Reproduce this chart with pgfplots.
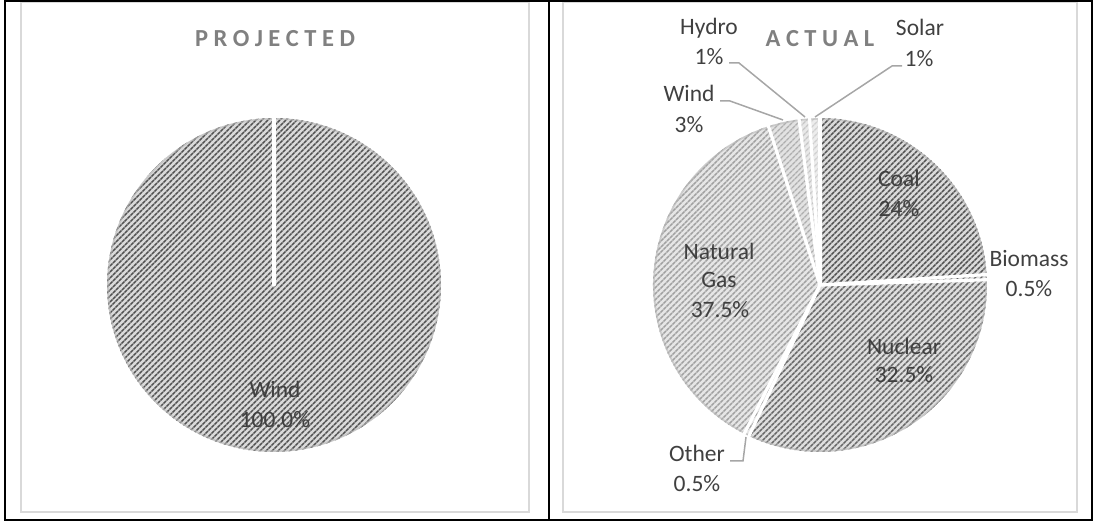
\documentclass[border=0pt]{standalone}
\usepackage{pgfplots}
\pgfplotsset{compat=1.18}
\usetikzlibrary{patterns.meta}
\usepackage{fontspec}
\setmainfont{Carlito}
\definecolor{lbl}{HTML}{404040}
\definecolor{ttl}{HTML}{808080}
\definecolor{leader}{HTML}{A6A6A6}
\definecolor{frame}{HTML}{D9D9D9}
\definecolor{bgA}{HTML}{DADADA}\definecolor{lnA}{HTML}{505050}
\definecolor{bgB}{HTML}{DEDEDE}\definecolor{lnB}{HTML}{666666}
\definecolor{bgC}{HTML}{E6E6E6}\definecolor{lnC}{HTML}{A0A0A0}
\definecolor{bgD}{HTML}{E2E2E2}\definecolor{lnD}{HTML}{AEAEAE}
\definecolor{bgE}{HTML}{E8E8E8}\definecolor{lnE}{HTML}{C6C6C6}
\definecolor{bgF}{HTML}{ECECEC}\definecolor{lnF}{HTML}{D0D0D0}
\newcommand\pieR{167}
% #1 start (percent), #2 share (percent), #3 background, #4 hatch colour
\newcommand\slicefill[4]{%
  \pgfmathsetmacro\sa{90-3.6*(#1)}%
  \pgfmathsetmacro\ea{90-3.6*((#1)+(#2))}%
  \pgfmathsetmacro\sx{\pieR*cos(\sa)}%
  \pgfmathsetmacro\sy{\pieR*sin(\sa)}%
  \edef\tmp{\noexpand\path[fill=#3, postaction={pattern={Lines[angle=45,distance=3.9bp,line width=1.6bp]}, pattern color=#4}] (0,0) -- (\sx,\sy) arc[start angle=\sa, end angle=\ea, radius=\pieR bp] -- cycle;}%
  \tmp}
% white separator at cumulative percent #1
\newcommand\sliceedge[1]{%
  \pgfmathsetmacro\sa{90-3.6*(#1)}%
  \pgfmathsetmacro\sx{(\pieR+2)*cos(\sa)}%
  \pgfmathsetmacro\sy{(\pieR+2)*sin(\sa)}%
  \edef\tmp{\noexpand\draw[white, line width=3.2bp, line cap=round] (0,0) -- (\sx,\sy);}%
  \tmp}
\newcommand\rim{\draw[gray!55, line width=1.6bp, opacity=0.6] (0,0) circle[radius=166bp];}
\tikzset{lab/.style={text=lbl, font=\fontsize{23.5bp}{28bp}\selectfont, anchor=base, inner sep=0pt},
  ttlst/.style={text=ttl, font=\fontsize{24.5bp}{28bp}\selectfont\bfseries, anchor=base, inner sep=0pt},
  lead/.style={draw=leader, line width=1.5bp}}
\begin{document}
\begin{tikzpicture}[x=1bp,y=1bp]
\useasboundingbox (0,0) rectangle (1094,521);
% chart area frames
\draw[frame, line width=1.5bp] (21,9) rectangle (529,518.5);
\draw[frame, line width=1.5bp] (563,9) rectangle (1077,518.5);
% ---------- PROJECTED ----------
\begin{axis}[at={(274,236)}, anchor=origin, x=1bp, y=1bp,
  xmin=-175, xmax=175, ymin=-175, ymax=175, hide axis, clip=false]
  \slicefill{0}{100}{bgA}{lnA}
  \rim
  \sliceedge{0}
\end{axis}
% ---------- ACTUAL ----------
\begin{axis}[at={(820,236)}, anchor=origin, x=1bp, y=1bp,
  xmin=-175, xmax=175, ymin=-175, ymax=175, hide axis, clip=false]
  \slicefill{0}{24}{bgA}{lnA}      % Coal
  \slicefill{24}{0.5}{bgB}{lnB}    % Biomass
  \slicefill{24.5}{32.5}{bgB}{lnB} % Nuclear
  \slicefill{57}{0.5}{bgC}{lnC}    % Other
  \slicefill{57.5}{37.5}{bgC}{lnC} % Natural Gas
  \slicefill{95}{3}{bgD}{lnD}      % Wind
  \slicefill{98}{1}{bgE}{lnE}      % Hydro
  \slicefill{99}{1}{bgF}{lnF}      % Solar
  \rim
  \sliceedge{0}\sliceedge{24}\sliceedge{24.5}\sliceedge{57}
  \sliceedge{57.5}\sliceedge{95}\sliceedge{98}\sliceedge{99}
\end{axis}
% titles
\node[ttlst] at (275,474) {P\kern5.5bp R\kern5.5bp O\kern5.5bp J\kern5.5bp E\kern5.5bp C\kern5.5bp T\kern5.5bp E\kern5.5bp D};
\node[ttlst] at (820,474) {A\kern5.5bp C\kern5.5bp T\kern5.5bp U\kern5.5bp A\kern5.5bp L};
% left labels
\node[lab] at (275,123) {Wind};
\node[lab] at (275,93) {100.0\%};
% right labels
\node[lab] at (920,485) {Solar};   \node[lab] at (919,454) {1\%};
\node[lab] at (709,486) {Hydro};   \node[lab] at (709,456) {1\%};
\node[lab] at (689,419) {Wind};    \node[lab] at (689,388) {3\%};
\node[lab] at (899,334) {Coal};    \node[lab] at (899,304) {24\%};
\node[lab] at (1029,254) {Biomass};\node[lab] at (1029,224) {0.5\%};
\node[lab] at (904,166) {Nuclear}; \node[lab] at (904,138) {32.5\%};
\node[lab] at (719,261) {Natural}; \node[lab] at (719,233) {Gas}; \node[lab] at (720,203) {37.5\%};
\node[lab] at (697,59) {Other};    \node[lab] at (697,29) {0.5\%};
% leader lines
\draw[lead] (902,455) -- (892,455) -- (815,404);
\draw[lead] (729,458) -- (739,458) -- (805,404);
\draw[lead] (720,420) -- (730,420) -- (783,401);
\draw[lead] (730,60) -- (743,60) -- (746,84);
% outer black frames
\draw[black, line width=1.8bp] (5,1) rectangle (1092,520);
\draw[black, line width=1.8bp] (549,1) -- (549,520);
\end{tikzpicture}
\end{document}
